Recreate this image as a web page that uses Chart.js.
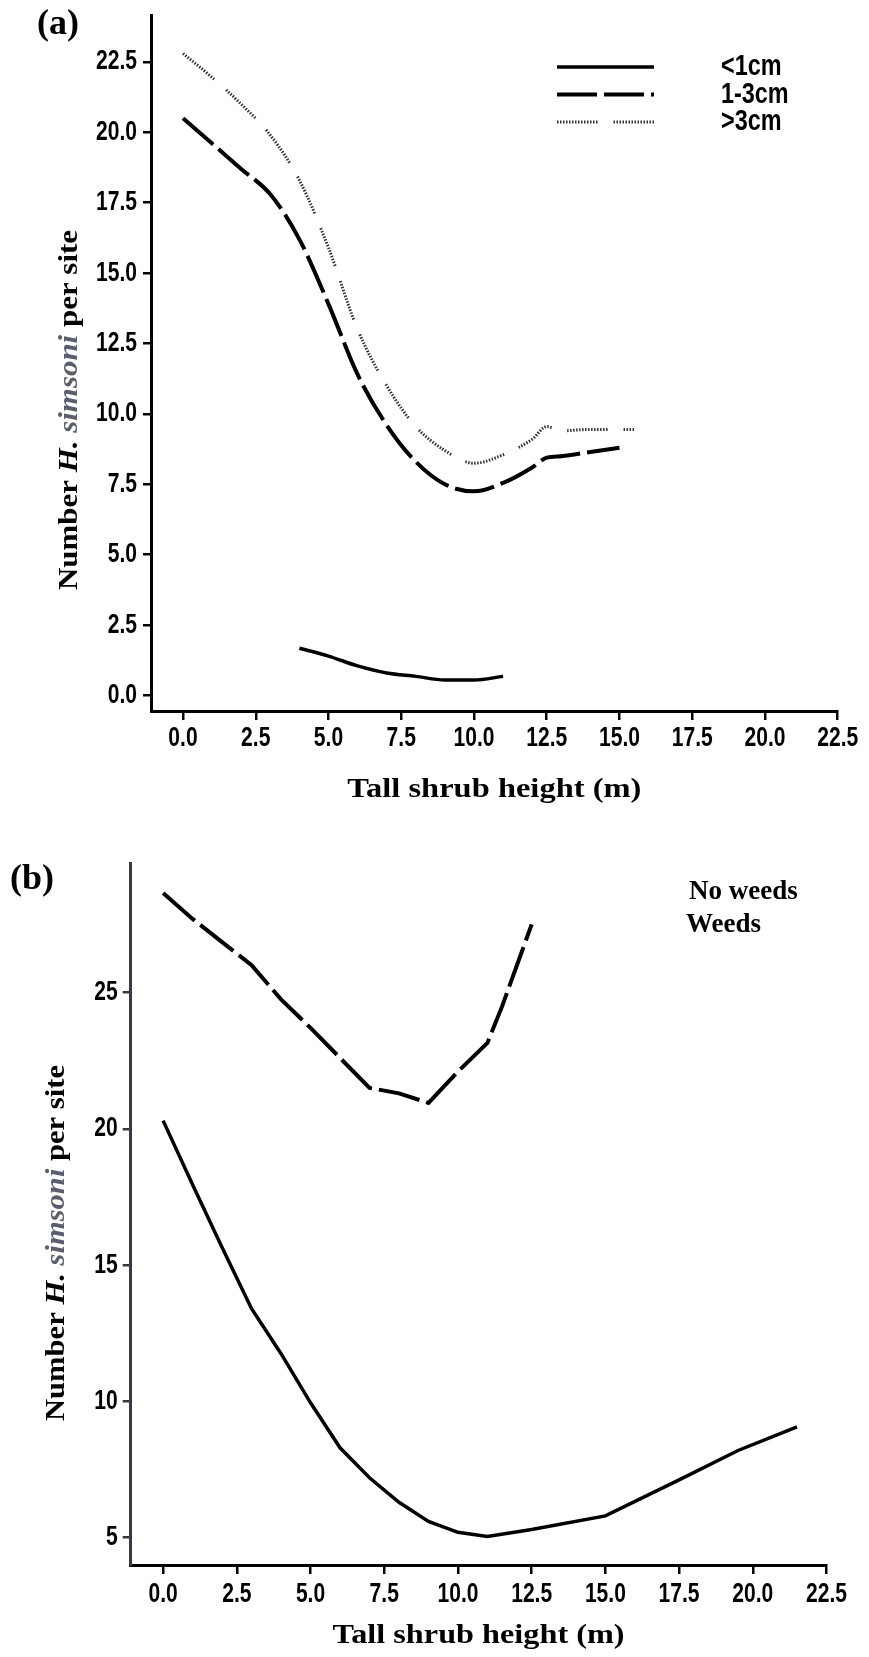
<!DOCTYPE html>
<html><head><meta charset="utf-8">
<script src="https://cdn.jsdelivr.net/npm/chart.js@4.4.1/dist/chart.umd.min.js"></script>
<style>
html,body{margin:0;padding:0;background:#fff;}
#wrap{position:relative;width:869px;height:1657px;overflow:hidden;background:#fff;}
canvas{position:absolute;left:0;}
#ca{top:0;} #cb{top:815px;}
</style></head><body>
<div id="wrap"><canvas id="ca" width="869" height="815"></canvas><canvas id="cb" width="869" height="842"></canvas></div>
<script>
// ---------- shared ----------
const xTickValues = [0, 2.5, 5, 7.5, 10, 12.5, 15, 17.5, 20, 22.5];
const xTitle = 'Tall shrub height (m)';
const yTitleParts = ['Number ', 'H.', ' ', 'simsoni', ' per site'];

// ---------- panel (a) ----------
const panelLabelA = '(a)';
const yTicksA = [0, 2.5, 5, 7.5, 10, 12.5, 15, 17.5, 20, 22.5];
const seriesLabelsA = ['<1cm', '1-3cm', '>3cm'];
const smallX = [4, 5, 6, 7, 8, 9, 10, 11];
const smallY = [1.68, 1.4, 1.05, 0.8, 0.68, 0.55, 0.55, 0.68];
const midX = [0, 1, 2, 3, 4, 5, 6, 7, 8, 9, 10, 11, 12, 12.5, 13, 14, 15];
const midY = [20.5, 19.6, 18.7, 17.8, 16.2, 13.9, 11.4, 9.6, 8.3, 7.5, 7.25, 7.55, 8.1, 8.45, 8.5, 8.65, 8.8];
const largeX = [0, 1, 2, 3, 4, 5, 6, 7, 8, 9, 10, 11, 12, 12.5, 13, 14, 15, 15.5];
const largeY = [22.8, 21.95, 21.0, 19.9, 18.3, 15.9, 13.0, 11.0, 9.55, 8.7, 8.25, 8.55, 9.1, 9.55, 9.4, 9.45, 9.45, 9.45];

// ---------- panel (b) ----------
const panelLabelB = '(b)';
const yTicksB = [5, 10, 15, 20, 25];
const seriesLabelsB = ['No weeds', 'Weeds'];
const noWeedsX = [0, 1, 2, 3, 4, 5, 6, 7, 8, 9, 10, 11, 12.5, 15, 17.5, 19.5, 21.5];
const noWeedsY = [20.3, 17.95, 15.65, 13.4, 11.75, 9.95, 8.3, 7.2, 6.3, 5.6, 5.2, 5.05, 5.3, 5.8, 7.12, 8.2, 9.07];
const weedsX = [0, 1, 2, 3, 4, 5, 6, 7, 8, 9, 10, 11, 11.5, 12, 12.5];
const weedsY = [28.65, 27.7, 26.85, 26.0, 24.75, 23.7, 22.6, 21.5, 21.3, 20.95, 22.1, 23.15, 24.5, 26.0, 27.5];

// ---------- helpers ----------
const pts = (xs, ys) => xs.map((x, i) => ({x: x, y: ys[i]}));
const SANS = '"Liberation Sans", Arial, sans-serif';
const SERIF = '"Liberation Serif", "Times New Roman", serif';
const SQUEEZE = 0.78;
const dotPattern = (() => { const a = []; for (let i = 0; i < 13; i++) { a.push(1.5, 1.5); } a.push(1.5, 16); return a; })();

// draw the scale's own tick labels, horizontally condensed (narrow face look)
function squeezeLabels(scale) {
  if (scale.__sq) return;
  scale.__sq = true;
  scale.drawLabels = function (chartArea) {
    const ctx = this.ctx;
    const items = this.getLabelItems(chartArea);
    for (const item of items) {
      const o = item.options;
      ctx.save();
      ctx.translate(o.translation[0], o.translation[1]);
      if (o.rotation) ctx.rotate(o.rotation);
      ctx.scale(SQUEEZE, 1);
      ctx.font = item.font.string;
      ctx.fillStyle = o.color;
      ctx.textAlign = o.textAlign;
      ctx.textBaseline = o.textBaseline;
      ctx.fillText(item.label, 0, item.textOffset);
      ctx.restore();
    }
  };
}

function yTitlePlugin(id, cx, cy, size, target) {
  return {
    id: id,
    afterDraw(chart) {
      const ctx = chart.ctx;
      const fonts = [
        {f: `bold ${size}px ${SERIF}`, c: '#000'},
        {f: `italic bold ${size}px ${SERIF}`, c: '#000'},
        {f: `bold ${size}px ${SERIF}`, c: '#000'},
        {f: `italic bold ${size}px ${SERIF}`, c: '#5a5e6e'},
        {f: `bold ${size}px ${SERIF}`, c: '#000'}
      ];
      ctx.save();
      let total = 0;
      const widths = yTitleParts.map((t, i) => { ctx.font = fonts[i].f; const w = ctx.measureText(t).width; total += w; return w; });
      ctx.translate(cx, cy);
      ctx.rotate(-Math.PI / 2);
      ctx.scale(target / total, 1);
      let x = -total / 2;
      ctx.textBaseline = 'middle';
      ctx.textAlign = 'left';
      yTitleParts.forEach((t, i) => {
        ctx.font = fonts[i].f; ctx.fillStyle = fonts[i].c;
        ctx.fillText(t, x, 0);
        x += widths[i];
      });
      ctx.restore();
    }
  };
}

function xTitlePlugin(id, cy, size, target) {
  return {
    id: id,
    afterDraw(chart) {
      const ctx = chart.ctx;
      const a = chart.chartArea;
      ctx.save();
      ctx.font = `bold ${size}px ${SERIF}`;
      const w = ctx.measureText(xTitle).width;
      ctx.translate((a.left + a.right) / 2, cy);
      ctx.scale(target / w, 1);
      ctx.fillStyle = '#000';
      ctx.textAlign = 'center';
      ctx.textBaseline = 'middle';
      ctx.fillText(xTitle, 0, 0);
      ctx.restore();
    }
  };
}

function panelLabelPlugin(id, text, cx, cy) {
  return {
    id: id,
    afterDraw(chart) {
      const ctx = chart.ctx;
      ctx.save();
      ctx.font = `bold 36px ${SERIF}`;
      ctx.fillStyle = '#000';
      ctx.textAlign = 'center';
      ctx.textBaseline = 'middle';
      ctx.fillText(text, cx, cy);
      ctx.restore();
    }
  };
}

const legendA = {
  id: 'legendA',
  afterDraw(chart) {
    const ctx = chart.ctx;
    chart.data.datasets.forEach((ds, i) => {
      const y = 67 + i * 27.5;
      ctx.save();
      ctx.strokeStyle = ds.borderColor;
      ctx.lineWidth = ds.borderWidth;
      ctx.setLineDash(ds.borderDash || []);
      ctx.beginPath(); ctx.moveTo(557, y); ctx.lineTo(654, y); ctx.stroke();
      ctx.setLineDash([]);
      ctx.translate(721, y);
      ctx.scale(SQUEEZE, 1);
      ctx.fillStyle = '#000';
      ctx.font = `bold 30px ${SANS}`;
      ctx.textBaseline = 'middle';
      ctx.textAlign = 'left';
      ctx.fillText(ds.label, 0, 0);
      ctx.restore();
    });
  }
};

const legendB = {
  id: 'legendB',
  afterDraw(chart) {
    const ctx = chart.ctx;
    chart.data.datasets.forEach((ds, i) => {
      ctx.save();
      ctx.fillStyle = '#000';
      ctx.font = `bold 27px ${SERIF}`;
      ctx.textBaseline = 'middle';
      ctx.textAlign = 'left';
      ctx.fillText(ds.label, i === 0 ? 689 : 686, 77 + i * 33);
      ctx.restore();
    });
  }
};

function xScale(height, tickPad) {
  return {
    type: 'linear', min: -1.1, max: 22.5,
    afterBuildTicks: s => { s.ticks = xTickValues.map(v => ({value: v})); },
    afterFit: s => { s.height = height; squeezeLabels(s); },
    grid: {display: true, drawOnChartArea: false, drawTicks: true, tickLength: 9, color: '#000', lineWidth: 2.5},
    border: {display: true, color: '#000', width: 3},
    ticks: {color: '#000', font: {family: SANS, size: 27, weight: 'bold', lineHeight: 1}, padding: tickPad,
            maxRotation: 0, minRotation: 0, autoSkip: false, callback: v => Number(v).toFixed(1)},
    title: {display: false, text: xTitle}
  };
}

function yScale(min, max, ticksArr, width, pad, fmt, axisColor) {
  return {
    type: 'linear', min: min, max: max,
    afterBuildTicks: s => { s.ticks = ticksArr.map(v => ({value: v})); },
    afterFit: s => { s.width = width; squeezeLabels(s); },
    grid: {display: true, drawOnChartArea: false, drawTicks: true, tickLength: 8, color: axisColor, lineWidth: 2.5},
    border: {display: true, color: axisColor, width: 3},
    ticks: {color: '#000', font: {family: SANS, size: 27, weight: 'bold', lineHeight: 0.7}, padding: pad,
            autoSkip: false, callback: fmt},
    title: {display: false}
  };
}

// ---------- chart (a) ----------
new Chart(document.getElementById('ca'), {
  type: 'line',
  data: {
    datasets: [
      {label: seriesLabelsA[0], data: pts(smallX, smallY), borderColor: '#000', borderWidth: 3.5,
       pointRadius: 0, fill: false, cubicInterpolationMode: 'monotone'},
      {label: seriesLabelsA[1], data: pts(midX, midY), borderColor: '#000', borderWidth: 4, borderDash: [40, 7],
       pointRadius: 0, fill: false, cubicInterpolationMode: 'monotone'},
      {label: seriesLabelsA[2], data: pts(largeX, largeY), borderColor: '#333', borderWidth: 3, borderDash: dotPattern,
       pointRadius: 0, fill: false, cubicInterpolationMode: 'monotone'}
    ]
  },
  options: {
    responsive: false, animation: false, devicePixelRatio: 1,
    layout: {padding: {top: 10, right: 23, left: 0, bottom: 0}},
    plugins: {legend: {display: false}, tooltip: {enabled: false}},
    scales: {
      x: xScale(104, 5),
      y: yScale(-0.55, 24.15, yTicksA, 151, 6, v => Number(v).toFixed(1), '#000')
    }
  },
  plugins: [yTitlePlugin('ytA', 70, 410, 28, 360), xTitlePlugin('xtA', 790, 28, 294),
            legendA, panelLabelPlugin('plA', panelLabelA, 58, 25)]
});

// ---------- chart (b) ----------
new Chart(document.getElementById('cb'), {
  type: 'line',
  data: {
    datasets: [
      {label: seriesLabelsB[0], data: pts(noWeedsX, noWeedsY), borderColor: '#000', borderWidth: 3.5,
       pointRadius: 0, fill: false, tension: 0},
      {label: seriesLabelsB[1], data: pts(weedsX, weedsY), borderColor: '#000', borderWidth: 4, borderDash: [42, 7],
       pointRadius: 0, fill: false, tension: 0}
    ]
  },
  options: {
    responsive: false, animation: false, devicePixelRatio: 1,
    layout: {padding: {top: 48, right: 42.5, left: 0, bottom: 0}},
    plugins: {legend: {display: false}, tooltip: {enabled: false}},
    scales: {
      x: xScale(92, 7),
      y: yScale(4.0, 29.75, yTicksB, 130.7, 5, v => String(v), '#3a3a46')
    }
  },
  plugins: [yTitlePlugin('ytB', 57, 428, 28, 356), xTitlePlugin('xtB', 821, 28, 292),
            legendB, panelLabelPlugin('plB', panelLabelB, 32, 65)]
});
</script>
</body></html>
